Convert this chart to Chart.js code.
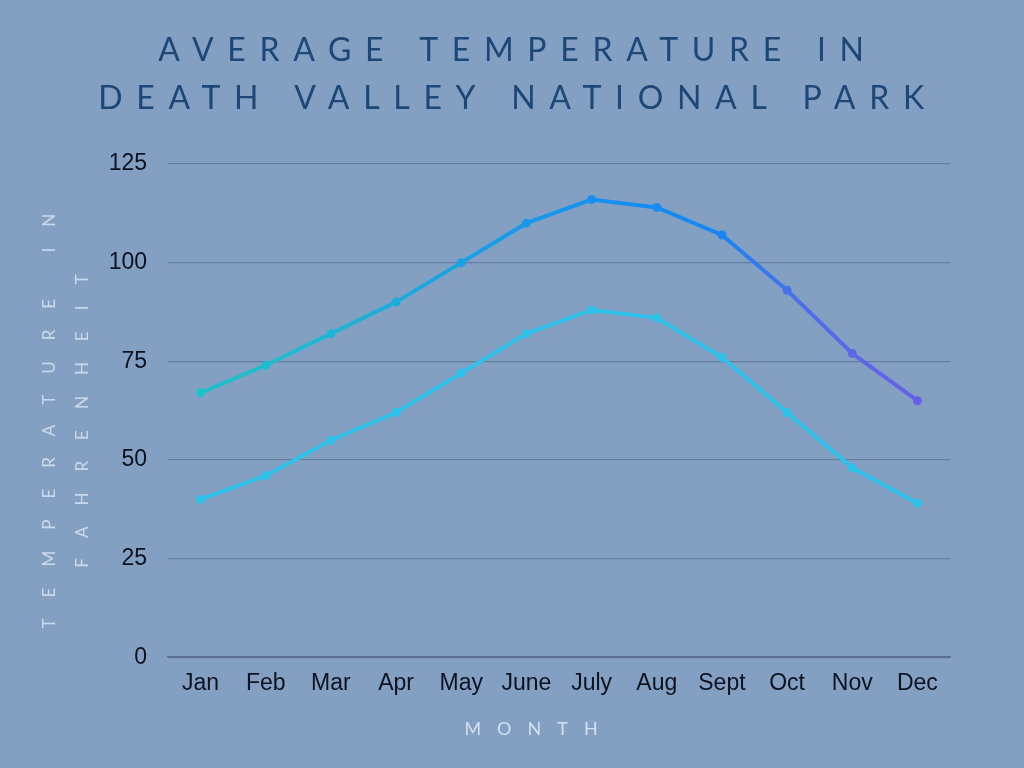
<!DOCTYPE html>
<html>
<head>
<meta charset="utf-8">
<script src="https://cdn.jsdelivr.net/npm/chart.js@4.4.1/dist/chart.umd.min.js"></script>
<style>
  html, body { margin: 0; padding: 0; background: #83A0C3; }
  #wrap { width: 1024px; height: 768px; }
</style>
</head>
<body>
<div id="wrap"><canvas id="c" width="1024" height="768"></canvas></div>
<script>
const months = ['Jan','Feb','Mar','Apr','May','June','July','Aug','Sept','Oct','Nov','Dec'];
const highTemps = [67, 74, 82, 90, 100, 110, 116, 114, 107, 93, 77, 65];
const lowTemps  = [40, 46, 55, 62, 72, 82, 88, 86, 76, 62, 48, 39];
const yTicks = [0, 25, 50, 75, 100, 125];
const titleLines = ['AVERAGE TEMPERATURE IN', 'DEATH VALLEY NATIONAL PARK'];
const yTitleLines = ['TEMPERATURE IN', 'FAHRENHEIT'];
const xTitle = 'MONTH';

function highGradient(context) {
  const chart = context.chart;
  const ca = chart.chartArea;
  if (!ca) return '#1A9BEA';
  const g = chart.ctx.createLinearGradient(ca.left, 0, ca.right, 0);
  g.addColorStop(0.00, '#1EC4C6');
  g.addColorStop(0.20, '#1CB8D3');
  g.addColorStop(0.40, '#199EE4');
  g.addColorStop(0.55, '#1690F0');
  g.addColorStop(0.70, '#1686F0');
  g.addColorStop(0.80, '#4A71EA');
  g.addColorStop(0.90, '#5F65E7');
  g.addColorStop(1.00, '#6C5CE4');
  return g;
}

const bgPlugin = {
  id: 'bg',
  beforeDraw(chart) {
    const ctx = chart.ctx;
    ctx.save();
    ctx.fillStyle = '#83A0C3';
    ctx.fillRect(0, 0, chart.width, chart.height);
    ctx.restore();
    const wrap = (obj, name, spacing, dx) => {
      if (!obj || obj['__ls_' + name]) return;
      const orig = obj[name];
      obj[name] = function (...args) {
        const c = chart.ctx;
        c.save();
        c.letterSpacing = spacing;
        if (dx) c.translate(dx, 0);
        const r = orig.apply(this, args);
        c.restore();
        return r;
      };
      obj['__ls_' + name] = true;
    };
    wrap(chart.titleBlock, 'draw', '13.7px', 6);
    wrap(chart.scales.y, 'drawTitle', '21px', 0);
    wrap(chart.scales.x, 'drawTitle', '16px', -20);
  }
};

new Chart(document.getElementById('c'), {
  type: 'line',
  data: {
    labels: months,
    datasets: [
      {
        label: 'High',
        data: highTemps,
        borderColor: highGradient,
        pointBackgroundColor: highGradient,
        pointBorderColor: highGradient,
        borderWidth: 4,
        pointRadius: 4.5,
        pointBorderWidth: 0,
        tension: 0
      },
      {
        label: 'Low',
        data: lowTemps,
        borderColor: '#2EC1EA',
        pointBackgroundColor: '#2EC1EA',
        pointBorderColor: '#2EC1EA',
        borderWidth: 4,
        pointRadius: 4.5,
        pointBorderWidth: 0,
        tension: 0
      }
    ]
  },
  options: {
    responsive: false,
    animation: false,
    devicePixelRatio: 1,
    layout: { padding: { left: 0, right: 0, top: 0, bottom: 28 } },
    plugins: {
      legend: { display: false },
      tooltip: { enabled: false },
      title: {
        display: true,
        text: titleLines,
        color: '#1D4777',
        font: { family: 'Lato', size: 32, weight: '400', lineHeight: 1.5 },
        padding: { top: 27, bottom: 41 }
      }
    },
    scales: {
      x: {
        offset: true,
        grid: { display: false, drawTicks: false },
        border: { display: true, color: 'rgba(75,95,125,0.75)', width: 1.5 },
        ticks: {
          color: '#0D1220',
          font: { family: 'Liberation Sans', size: 23 },
          padding: 13,
          maxRotation: 0,
          autoSkip: false
        },
        title: {
          display: true,
          text: xTitle,
          color: 'rgba(225,235,248,0.85)',
          font: { family: 'Lato', size: 18, weight: '400', lineHeight: 1.2 },
          padding: { top: 7.6, bottom: 0 }
        }
      },
      y: {
        min: 0,
        max: 125,
        afterBuildTicks(scale) { scale.ticks = yTicks.map(v => ({ value: v })); },
        afterFit(scale) { scale.width = 168; },
        grid: { color: 'rgba(75,95,125,0.55)', lineWidth: 1.2, drawTicks: false },
        border: { display: false },
        ticks: {
          color: '#0D1220',
          font: { family: 'Liberation Sans', size: 23 },
          padding: 21
        },
        title: {
          display: true,
          text: yTitleLines,
          color: 'rgba(225,235,248,0.75)',
          font: { family: 'Lato', size: 17, weight: '400', lineHeight: 33 / 17 },
          padding: { top: 33, bottom: 0 }
        }
      },
      yRight: {
        position: 'right',
        min: 0,
        max: 125,
        afterFit(scale) { scale.width = 74; },
        grid: { display: false, drawTicks: false },
        border: { display: false },
        ticks: { display: false }
      }
    }
  },
  plugins: [bgPlugin]
});
</script>
</body>
</html>
